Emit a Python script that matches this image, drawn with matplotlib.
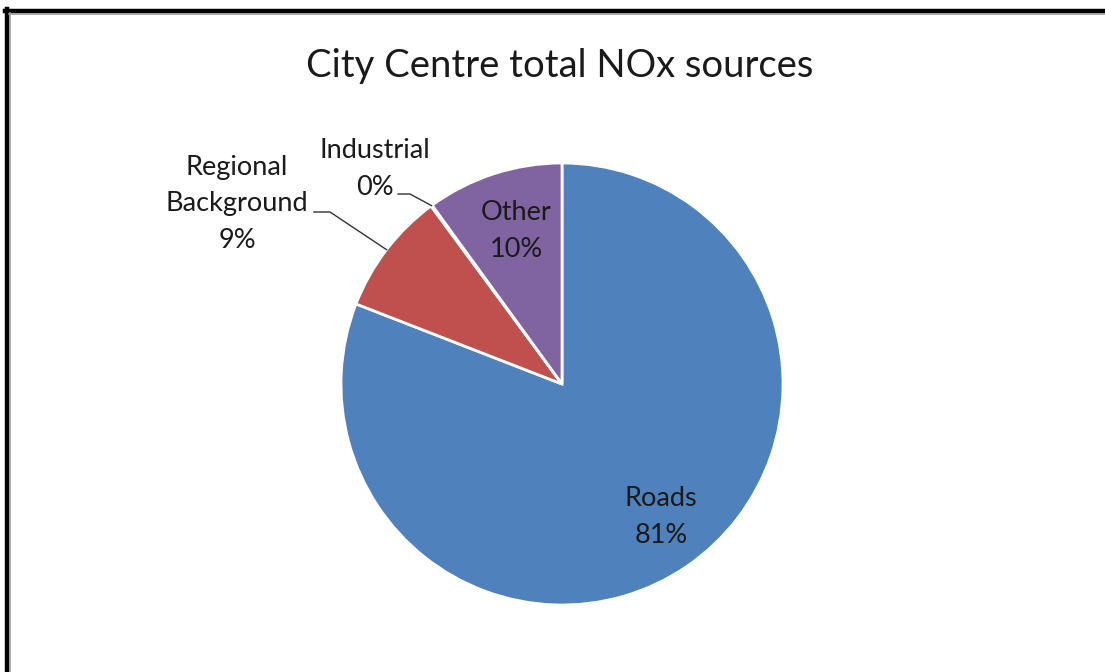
import numpy as np
import matplotlib
matplotlib.use('Agg')
from matplotlib import pyplot as plt
from matplotlib.lines import Line2D

# data
labels = ['Roads', 'Regional\nBackground', 'Industrial', 'Other']
shares = [80.9, 9.0, 0.1, 10.0]
shown_pct = ['81%', '9%', '0%', '10%']
colors = ['#4F81BD', '#C0504D', '#9BBB59', '#8064A2']

plt.rcParams['font.family'] = ['Lato', 'DejaVu Sans']

W, H = 1105, 672
fig = plt.figure(figsize=(W / 100, H / 100), dpi=100)
ax = fig.add_axes([0, 0, 1, 1])

cx, cy, r = 562, H - 384, 221
wedges, _ = ax.pie(shares, colors=colors, startangle=90, counterclock=False,
                   center=(cx, cy), radius=r, frame=True,
                   wedgeprops=dict(edgecolor='white', linewidth=2))
ax.set_xlim(0, W)
ax.set_ylim(0, H)
ax.set_aspect('auto')
ax.axis('off')

def mid_point(w, frac):
    a = np.deg2rad((w.theta1 + w.theta2) / 2)
    return cx + frac * r * np.cos(a), cy + frac * r * np.sin(a)

fs = 19.5
ls = 1.56
tc = '#1a1a1a'
# inside labels
ax.text(661, H - 517, f'{labels[0]}\n{shown_pct[0]}', ha='center', va='center',
        fontsize=fs, linespacing=ls, color=tc)
ax.text(516, H - 231, f'{labels[3]}\n{shown_pct[3]}', ha='center', va='center',
        fontsize=fs, linespacing=ls, color=tc)

# outside labels with leader lines
ax.text(237, H - 204, f'{labels[1]}\n{shown_pct[1]}', ha='center', va='center',
        fontsize=fs, linespacing=ls, color=tc)
px, py = mid_point(wedges[1], 1.0)
ax.plot([314, 330, px], [H - 212, H - 212, py], color='#333333', lw=1)

ax.text(375, H - 169, f'{labels[2]}\n{shown_pct[2]}', ha='center', va='center',
        fontsize=fs, linespacing=ls, color=tc)
px, py = mid_point(wedges[2], 1.0)
ax.plot([398, 410, px], [H - 194, H - 194, py], color='#333333', lw=1)

ax.text(560, H - 66, 'City Centre total NOx sources', ha='center', va='center',
        fontsize=27.5, color=tc)

# frame of the screenshot: top and left edges only
fig.add_artist(Line2D([5 / W, 1], [1 - 11 / H, 1 - 11 / H], color='black', lw=3.2))
fig.add_artist(Line2D([7 / W, 7 / W], [0, 1 - 9 / H], color='black', lw=3.2))
fig.add_artist(Line2D([9 / W, 1], [1 - 13.5 / H, 1 - 13.5 / H], color='#999999', lw=1.2))
fig.add_artist(Line2D([9.5 / W, 9.5 / W], [0, 1 - 13 / H], color='#999999', lw=1.2))

fig.savefig('out.png', dpi=100)
